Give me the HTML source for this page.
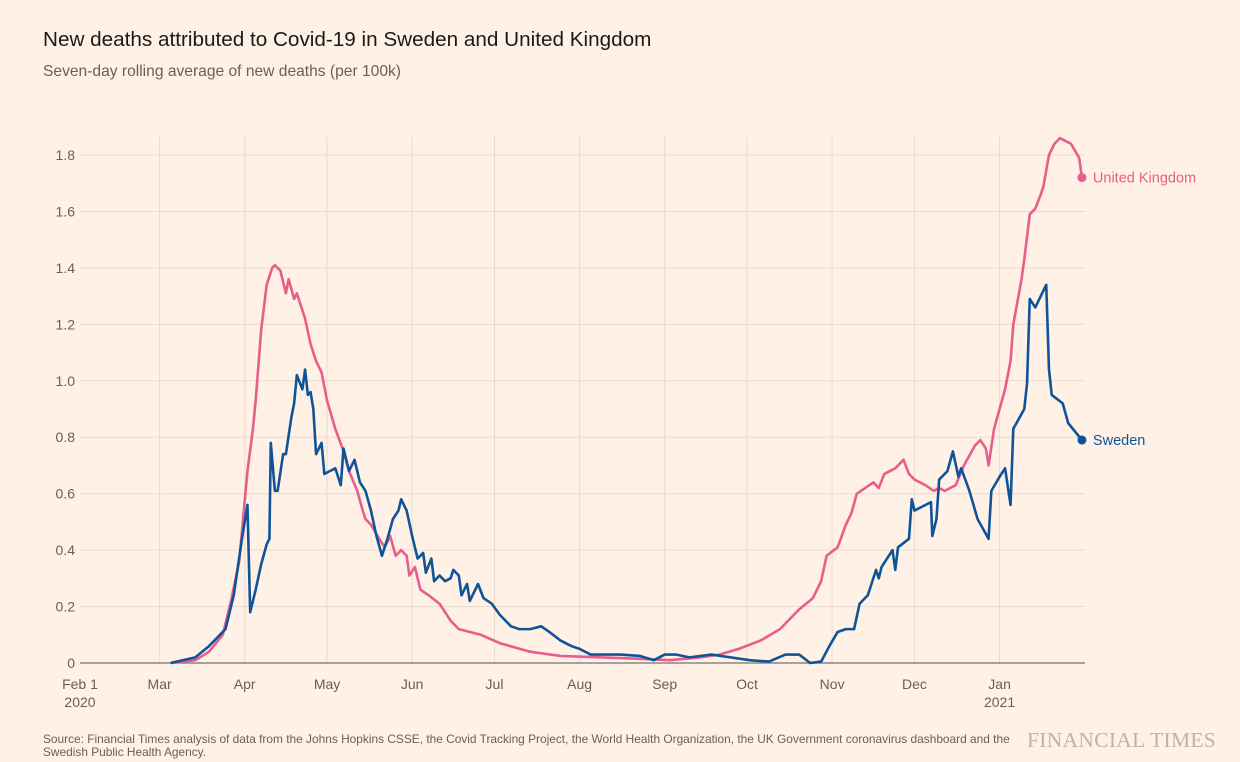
<!DOCTYPE html>
<html><head><meta charset="utf-8"><style>
body{margin:0;background:#fff1e5;font-family:"Liberation Sans",sans-serif;}
#wrap{position:relative;width:1240px;height:762px;overflow:hidden;}
.t{position:absolute;white-space:nowrap;}
</style></head><body>
<div id="wrap">
<div class="t" style="left:43px;top:28px;font-size:20.7px;color:#1a1a1a">New deaths attributed to Covid-19 in Sweden and United Kingdom</div>
<div class="t" style="left:43px;top:63px;font-size:15.6px;color:#66605c">Seven-day rolling average of new deaths (per 100k)</div>
<svg id="chart" width="1240" height="762" style="position:absolute;left:0;top:0"></svg>
<div class="t" style="left:43px;top:733px;font-size:11.9px;color:#66605c;line-height:13px">Source: Financial Times analysis of data from the Johns Hopkins CSSE, the Covid Tracking Project, the World Health Organization, the UK Government coronavirus dashboard and the<br>Swedish Public Health Agency.</div>
<div class="t" style="left:1027px;top:728px;font-size:21.5px;color:#bfb3a8;font-family:'Liberation Serif',serif;letter-spacing:0.3px">FINANCIAL TIMES</div>
</div>
<script>
const monthLabels=["Feb 1","Mar","Apr","May","Jun","Jul","Aug","Sep","Oct","Nov","Dec","Jan"];
const monthDays=[0,29,60,90,121,151,182,213,243,274,304,335];
const yTicks=[0,0.2,0.4,0.6,0.8,1.0,1.2,1.4,1.6,1.8];
const ukDays=[33,42,47,52,55,58,61,63,64,66,68,70,71,73,75,76,78,79,81,82,84,86,88,90,93,96,98,101,103,104,106,109,111,113,115,117,119,120,122,124,127,131,135,138,146,153,164,175,189,204,215,226,233,240,248,255,262,267,270,272,276,279,281,283,286,289,291,293,297,300,302,304,308,311,313,315,319,322,326,328,330,331,333,335,337,339,340,343,344,346,348,350,351,353,355,357,359,361,364,365];
const ukVals=[0,0.01,0.04,0.10,0.22,0.36,0.68,0.83,0.93,1.18,1.34,1.40,1.41,1.39,1.31,1.36,1.29,1.31,1.25,1.22,1.13,1.07,1.03,0.93,0.83,0.75,0.68,0.61,0.54,0.51,0.49,0.44,0.41,0.45,0.38,0.40,0.38,0.31,0.34,0.26,0.24,0.21,0.15,0.12,0.10,0.07,0.04,0.025,0.02,0.015,0.01,0.02,0.03,0.05,0.08,0.12,0.19,0.23,0.29,0.38,0.41,0.49,0.53,0.60,0.62,0.64,0.62,0.67,0.69,0.72,0.67,0.65,0.63,0.61,0.62,0.61,0.63,0.70,0.77,0.79,0.76,0.70,0.83,0.90,0.97,1.07,1.20,1.36,1.43,1.59,1.61,1.66,1.69,1.80,1.84,1.86,1.85,1.84,1.79,1.72];
const seDays=[33,42,47,53,56,59,61,62,64,66,68,69,69.5,71,72,74,75,77,78,79,81,82,83,84,85,86,88,89,91,93,95,96,98,100,102,104,106,108,110,112,114,116,117,119,121,123,125,126,128,129,131,133,135,136,138,139,141,142,145,147,150,153,157,160,164,168,171,175,179,182,186,189,197,204,209,213,217,222,230,237,244,251,257,262,266,270,273,276,279,282,284,287,290,291,292,294,296,297,298,302,303,304,310,310.5,312,313,316,318,320,321,324,327,331,332,335,337,339,340,344,345,346,348,352,353,354,358,360,365];
const seVals=[0,0.02,0.06,0.12,0.24,0.44,0.56,0.18,0.26,0.35,0.42,0.44,0.78,0.61,0.61,0.74,0.74,0.87,0.92,1.02,0.97,1.04,0.95,0.96,0.90,0.74,0.78,0.67,0.68,0.69,0.63,0.76,0.68,0.72,0.64,0.61,0.54,0.45,0.38,0.44,0.51,0.54,0.58,0.54,0.45,0.37,0.39,0.32,0.37,0.29,0.31,0.29,0.30,0.33,0.31,0.24,0.28,0.22,0.28,0.23,0.21,0.17,0.13,0.12,0.12,0.13,0.11,0.08,0.06,0.05,0.03,0.03,0.03,0.025,0.01,0.03,0.03,0.02,0.03,0.02,0.01,0.005,0.03,0.03,0,0.005,0.06,0.11,0.12,0.12,0.21,0.24,0.33,0.30,0.34,0.37,0.40,0.33,0.41,0.44,0.58,0.54,0.57,0.45,0.51,0.65,0.68,0.75,0.66,0.69,0.61,0.51,0.44,0.61,0.66,0.69,0.56,0.83,0.90,0.99,1.29,1.26,1.34,1.04,0.95,0.92,0.85,0.79];
const NS="http://www.w3.org/2000/svg";
const svg=document.getElementById('chart');
const x=d=>80+d*2.745;
const y=v=>663-v*282.2;
function mk(tag,attrs){const e=document.createElementNS(NS,tag);for(const k in attrs)e.setAttribute(k,attrs[k]);svg.appendChild(e);return e;}
yTicks.forEach(v=>{
 const g=mk('line',{x1:80,x2:1085,y1:y(v),y2:y(v),stroke:'#e9dccf','stroke-width':1});
 
 
 const t=mk('text',{x:75,y:y(v)+5,'text-anchor':'end','font-size':14,fill:'#66605c','font-family':'Liberation Sans'});
 t.textContent=v===0?'0':v.toFixed(1);
 
 
});
monthDays.forEach((d,i)=>{
 if(i>0){const g=mk('line',{x1:x(d),x2:x(d),y1:137,y2:663,stroke:'#e9dccf','stroke-width':1});
 
 }
 const t=mk('text',{x:x(d),y:689,'text-anchor':'middle','font-size':14,fill:'#66605c','font-family':'Liberation Sans'});
 t.textContent=monthLabels[i];
 
 
});
[[0,'2020'],[335,'2021']].forEach(([d,s])=>{const t=mk('text',{x:x(d),y:707,'text-anchor':'middle','font-size':14,fill:'#66605c','font-family':'Liberation Sans'});t.textContent=s;
 
 });
const ax=mk('line',{x1:80,x2:1085,y1:663,y2:663,stroke:'#8c8580','stroke-width':1.5});


function series(days,vals,col,name,label){
 const p=mk('polyline',{points:days.map((d,i)=>x(d)+','+y(vals[i])).join(' '),fill:'none',stroke:col,'stroke-width':2.6,'stroke-linejoin':'round'});
 
 
 const n=days.length-1;
 const c=mk('circle',{cx:x(days[n]),cy:y(vals[n]),r:4.5,fill:col});
 
 
 const t=mk('text',{x:x(days[n])+11,y:y(vals[n])+5,'font-size':14.5,fill:col,'font-family':'Liberation Sans'});
 t.textContent=label;
 
 
}
series(ukDays,ukVals,'#e95d8c','uk','United Kingdom');
series(seDays,seVals,'#0f5499','sweden','Sweden');
</script>
</body></html>
